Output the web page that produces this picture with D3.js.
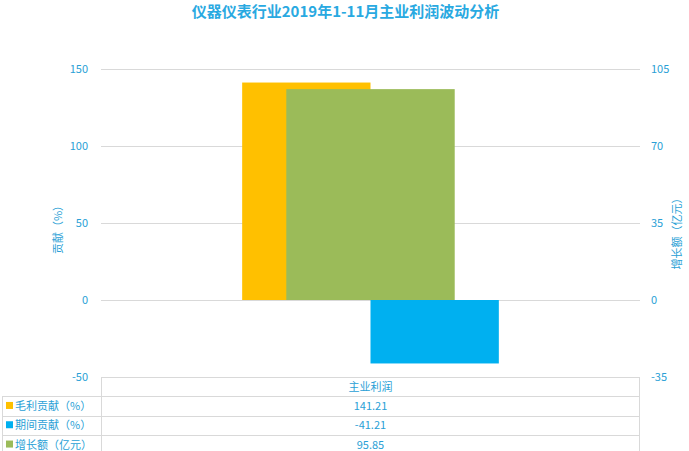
<!DOCTYPE html>
<html>
<head>
<meta charset="utf-8">
<script src="https://cdn.jsdelivr.net/npm/d3@7"></script>
<style>
  body { margin: 0; background: #fff; }
  svg { font-family: "Noto Sans CJK SC", "Noto Sans", sans-serif; }
</style>
</head>
<body>
<div id="chart"></div>
<script>
// chart data
var categories = ["主业利润"];
var seriesNames = ["毛利贡献（%）", "期间贡献（%）", "增长额（亿元）"];
var grossContrib = [141.21];
var periodContrib = [-41.21];
var growthAmount = [95.85];
var leftTicks = [-50, 0, 50, 100, 150];
var rightTicks = [-35, 0, 35, 70, 105];
var colors = ["#ffc000", "#00b0f0", "#9bbb59"];

var W = 689, H = 451;
var textColor = "#2a9fd6";
var gridColor = "#d9d9d9";

// plain hyphen for negatives, like the source chart
var fmtTick = function(d) { return String(d); };
var fmtVal = function(d) { return d.toFixed(2); };

var svg = d3.select("#chart").append("svg")
  .attr("width", W)
  .attr("height", H);

// plot area
var plot = {left: 101, right: 640, top: 69, bottom: 377};

var y = d3.scaleLinear().domain([-50, 150]).range([plot.bottom, plot.top]);
var y2 = d3.scaleLinear().domain([-35, 105]).range([plot.bottom, plot.top]);

// category scale for the primary pair of bars
var x = d3.scaleBand().domain(categories).range([plot.left, plot.right])
  .paddingInner(0).paddingOuter(0.55);
var xSub = d3.scaleBand().domain([0, 1]).range([0, x.bandwidth()]);
// secondary axis bar is wider, centered on the category
var x2 = d3.scaleBand().domain(categories).range([plot.left, plot.right])
  .paddingInner(0).paddingOuter(1.1);

// title
svg.append("text")
  .attr("x", W / 2 + 1)
  .attr("y", 17)
  .attr("text-anchor", "middle")
  .style("font-size", "15px")
  .style("font-weight", "bold")
  .style("fill", "#29a9e1")
  .text("仪器仪表行业2019年1-11月主业利润波动分析");

// gridlines
svg.append("g").selectAll("line")
  .data(leftTicks.filter(function(d) { return d !== -50; }))
  .enter().append("line")
  .attr("x1", plot.left).attr("x2", plot.right)
  .attr("y1", function(d) { return y(d) + 0.5; })
  .attr("y2", function(d) { return y(d) + 0.5; })
  .style("stroke", gridColor);

// left axis
var leftAxis = svg.append("g")
  .attr("transform", "translate(" + (plot.left - 13) + ",0)")
  .call(d3.axisLeft(y).tickValues(leftTicks).tickFormat(fmtTick).tickSize(0).tickPadding(0));
leftAxis.select(".domain").remove();
leftAxis.selectAll("text")
  .style("font-size", "11px")
  .style("fill", textColor)
  .style("font-family", "'Noto Sans CJK SC', sans-serif");

// right axis
var rightAxis = svg.append("g")
  .attr("transform", "translate(" + (plot.right + 11) + ",0)")
  .call(d3.axisRight(y2).tickValues(rightTicks).tickFormat(fmtTick).tickSize(0).tickPadding(0));
rightAxis.select(".domain").remove();
rightAxis.selectAll("text")
  .style("font-size", "11px")
  .style("fill", textColor)
  .style("font-family", "'Noto Sans CJK SC', sans-serif");

// axis titles
svg.append("text")
  .attr("transform", "translate(62,227) rotate(-90)")
  .attr("text-anchor", "middle")
  .style("font-size", "11px")
  .style("fill", textColor)
  .text("贡献（%）");

svg.append("text")
  .attr("transform", "translate(681,231) rotate(-90)")
  .attr("text-anchor", "middle")
  .style("font-size", "11px")
  .style("fill", textColor)
  .text("增长额（亿元）");

// primary bars
var primary = [grossContrib, periodContrib];
primary.forEach(function(vals, i) {
  svg.append("g").selectAll("rect")
    .data(vals)
    .enter().append("rect")
    .attr("x", function(d, j) { return x(categories[j]) + xSub(i); })
    .attr("width", xSub.bandwidth())
    .attr("y", function(d) { return y(Math.max(0, d)); })
    .attr("height", function(d) { return Math.abs(y(d) - y(0)); })
    .style("fill", colors[i]);
});

// secondary bar
svg.append("g").selectAll("rect")
  .data(growthAmount)
  .enter().append("rect")
  .attr("x", function(d, j) { return x2(categories[j]); })
  .attr("width", x2.bandwidth())
  .attr("y", function(d) { return y2(Math.max(0, d)); })
  .attr("height", function(d) { return Math.abs(y2(d) - y2(0)); })
  .style("fill", colors[2]);

// data table under the plot
var rowH = 19.3;
var tableTop = plot.bottom;
var labelLeft = 2;
var tbl = svg.append("g");
var rowsData = [grossContrib, periodContrib, growthAmount];

// horizontal lines
d3.range(0, 4).forEach(function(r) {
  var yy = Math.round(tableTop + r * rowH) + 0.5;
  tbl.append("line")
    .attr("x1", r === 0 ? plot.left : labelLeft).attr("x2", plot.right)
    .attr("y1", yy).attr("y2", yy)
    .style("stroke", gridColor);
});
// vertical lines
tbl.append("line")
  .attr("x1", plot.left + 0.5).attr("x2", plot.left + 0.5)
  .attr("y1", tableTop).attr("y2", H)
  .style("stroke", gridColor);
tbl.append("line")
  .attr("x1", plot.right - 0.5).attr("x2", plot.right - 0.5)
  .attr("y1", tableTop).attr("y2", H)
  .style("stroke", gridColor);
tbl.append("line")
  .attr("x1", labelLeft + 0.5).attr("x2", labelLeft + 0.5)
  .attr("y1", tableTop + rowH).attr("y2", H)
  .style("stroke", gridColor);

// header
tbl.selectAll(".cat")
  .data(categories)
  .enter().append("text")
  .attr("x", function(d) { return x(d) + x.bandwidth() / 2; })
  .attr("y", tableTop + rowH / 2 + 4)
  .attr("text-anchor", "middle")
  .style("font-size", "11px")
  .style("fill", textColor)
  .text(function(d) { return d; });

// series rows
seriesNames.forEach(function(name, i) {
  var cy = tableTop + rowH * (i + 1) + rowH / 2;
  tbl.append("rect")
    .attr("x", 6).attr("y", cy - 4)
    .attr("width", 7).attr("height", 7)
    .style("fill", colors[i]);
  tbl.append("text")
    .attr("x", 15).attr("y", cy + 4)
    .style("font-size", "11px")
    .style("fill", textColor)
    .text(name);
  tbl.selectAll(".v" + i)
    .data(rowsData[i])
    .enter().append("text")
    .attr("x", function(d, j) { return x(categories[j]) + x.bandwidth() / 2; })
    .attr("y", cy + 4)
    .attr("text-anchor", "middle")
    .style("font-size", "11px")
    .style("fill", textColor)
    .text(fmtVal);
});
</script>
</body>
</html>
